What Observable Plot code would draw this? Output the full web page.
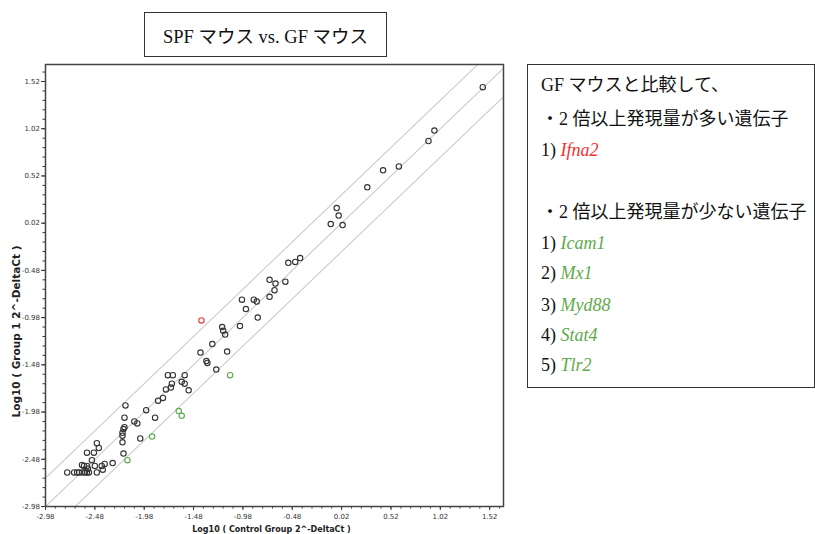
<!DOCTYPE html>
<html><head><meta charset="utf-8">
<script src="https://cdn.jsdelivr.net/npm/d3@7"></script>
<script src="https://cdn.jsdelivr.net/npm/@observablehq/plot@0.6"></script>
<style>
html,body{margin:0;padding:0;background:#fff;}
#page{position:relative;width:815px;height:534px;overflow:hidden;background:#fff;}
#chart{position:absolute;left:0;top:0;}
.box{position:absolute;border:1.5px solid #333;box-sizing:border-box;background:#fff;}
#title{left:144px;top:12px;width:243px;height:45px;font:18.5px "Liberation Serif","Noto Sans CJK JP",serif;display:flex;align-items:center;justify-content:center;color:#111;}
#legend{left:527px;top:64px;width:288px;height:324px;}
.line{position:absolute;left:13px;font:18px "Liberation Serif","Noto Sans CJK JP",serif;color:#111;white-space:nowrap;line-height:20px;}
.gene{font-style:italic;}
</style>
</head><body>
<div id="page">
  <div id="chart"></div>
  <div id="title" class="box"></div>
  <div id="legend" class="box"></div>
</div>
<script>
// ---- data (log10 2^-DeltaCt) ----
const controlLog = [
  1.45, 0.96, 0.90, 0.60, 0.44, 0.28, -0.03, -0.01, -0.09, 0.03,
  -0.40, -0.45, -0.52, -0.71, -0.65, -0.55, -0.66, -0.71, -0.87, -0.84,
  -0.83, -0.99, -0.95, -1.01, -1.19, -1.18, -1.16, -1.29, -1.41, -1.14,
  -1.35, -1.34, -1.25, -1.74, -1.69, -1.57, -1.60, -1.57, -1.70, -1.71,
  -1.76, -1.53, -1.79, -1.84, -2.17, -1.96, -1.87, -2.18, -2.08, -2.05,
  -2.18, -2.19, -2.20, -2.20, -2.02, -2.20, -2.46, -2.44, -2.56, -2.49,
  -2.19, -2.51, -2.30, -2.38, -2.41, -2.40, -2.61, -2.59, -2.56, -2.55,
  -2.48, -2.76, -2.69, -2.66, -2.64, -2.61, -2.58, -2.56, -2.54, -2.46,
  -1.40,
  -1.11, -1.63, -1.60, -1.90, -2.15
];
const group1Log = [
  1.46, 1.00, 0.89, 0.62, 0.58, 0.40, 0.18, 0.10, 0.01, 0.00,
  -0.35, -0.39, -0.40, -0.58, -0.62, -0.60, -0.69, -0.76, -0.79, -0.81,
  -0.98, -0.79, -0.89, -1.07, -1.08, -1.12, -1.16, -1.26, -1.35, -1.34,
  -1.44, -1.46, -1.53, -1.59, -1.59, -1.59, -1.66, -1.68, -1.68, -1.72,
  -1.74, -1.75, -1.83, -1.86, -1.91, -1.96, -2.04, -2.04, -2.08, -2.10,
  -2.14, -2.16, -2.20, -2.23, -2.26, -2.30, -2.31, -2.36, -2.41, -2.41,
  -2.42, -2.49, -2.52, -2.53, -2.55, -2.59, -2.54, -2.55, -2.55, -2.58,
  -2.55, -2.62, -2.62, -2.62, -2.62, -2.62, -2.62, -2.62, -2.62, -2.62,
  -1.01,
  -1.59, -1.97, -2.02, -2.24, -2.49
];
// "none" = within 2-fold, "up" = >=2x higher, "down" = >=2x lower
const status = controlLog.map((_, i) => i < 80 ? "none" : (i === 80 ? "up" : "down"));

const majorTicks = [-2.98, -2.48, -1.98, -1.48, -0.98, -0.48, 0.02, 0.52, 1.02, 1.52];
const foldOffsets = [-Math.log10(2), 0, Math.log10(2)];
const xLabel = "Log10 ( Control Group 2^-DeltaCt )";
const yLabel = "Log10 ( Group 1 2^-DeltaCt )";
const titleText = "SPF マウス vs. GF マウス";
const legendIntro = "GF マウスと比較して、";
const upHeader = "・2 倍以上発現量が多い遺伝子";
const upGenes = ["Ifna2"];
const downHeader = "・2 倍以上発現量が少ない遺伝子";
const downGenes = ["Icam1", "Mx1", "Myd88", "Stat4", "Tlr2"];

const colUp = "#ee3333", colDown = "#5faa4c", colNone = "#333333";

// ---- build ----
const xDomain = [-2.98, 1.66], yDomain = [-2.98, 1.70];
const rows = controlLog.map((x, i) => ({x, y: group1Log[i], s: status[i]}));
const minorTicks = d3.range(0, 47).map(i => -2.98 + i * 0.1);
const lines = foldOffsets.flatMap(c => [xDomain[0] - 1, xDomain[1] + 1].map(x => ({c, x, y: x + c})));
const fmt = d => d.toFixed(2);

const chart = Plot.plot({
  width: 520, height: 534,
  marginLeft: 45, marginRight: 17, marginTop: 64, marginBottom: 28,
  x: {domain: xDomain}, y: {domain: yDomain},
  color: {domain: ["none", "up", "down"], range: [colNone, colUp, colDown]},
  style: {fontFamily: "DejaVu Sans", fontSize: "7px", color: "#333", background: "transparent"},
  marks: [
    Plot.line(lines, {x: "x", y: "y", z: "c", stroke: "#cbcbcb", strokeWidth: 1.1, clip: true}),
    Plot.axisX({ticks: minorTicks, tickSize: 2.5, tickFormat: () => "", label: null}),
    Plot.axisY({ticks: minorTicks, tickSize: 2.5, tickFormat: () => "", label: null}),
    Plot.axisX({ticks: majorTicks, tickSize: 4, tickPadding: 4, tickFormat: fmt, label: null}),
    Plot.axisY({ticks: majorTicks, tickSize: 4, tickPadding: 1.5, tickFormat: fmt, label: null}),
    Plot.dot(rows, {x: "x", y: "y", r: 2.7, stroke: "s", strokeWidth: 1.1, fill: "none"}),
    Plot.frame({stroke: "#444", strokeWidth: 1.5}),
    Plot.text([xLabel], {text: d => d, frameAnchor: "bottom", textAnchor: "middle", lineAnchor: "middle", dx: -3, dy: 23, fontWeight: "bold", fontSize: 8, fill: "#222"}),
    Plot.text([yLabel], {text: d => d, frameAnchor: "left", textAnchor: "middle", lineAnchor: "middle", dx: -29, dy: 46, rotate: -90, fontWeight: "bold", fontSize: 10.5, fill: "#222"})
  ]
});
document.getElementById("chart").appendChild(chart);

document.getElementById("title").textContent = titleText;

const legend = document.getElementById("legend");
const tops = [9.5, 43.5, 74.5, 136.5, 167.5, 197.5, 229.5, 259.5, 289.5];
const items = [
  {text: legendIntro},
  {text: upHeader},
  ...upGenes.map((g, i) => ({prefix: (i + 1) + ") ", gene: g, color: colUp})),
  {text: downHeader},
  ...downGenes.map((g, i) => ({prefix: (i + 1) + ") ", gene: g, color: colDown}))
];
items.forEach((it, i) => {
  const div = document.createElement("div");
  div.className = "line";
  div.style.top = tops[i] + "px";
  if (it.text) div.textContent = it.text;
  else {
    div.appendChild(document.createTextNode(it.prefix));
    const s = document.createElement("span");
    s.className = "gene"; s.style.color = it.color; s.textContent = it.gene;
    div.appendChild(s);
  }
  legend.appendChild(div);
});
</script>
</body></html>
